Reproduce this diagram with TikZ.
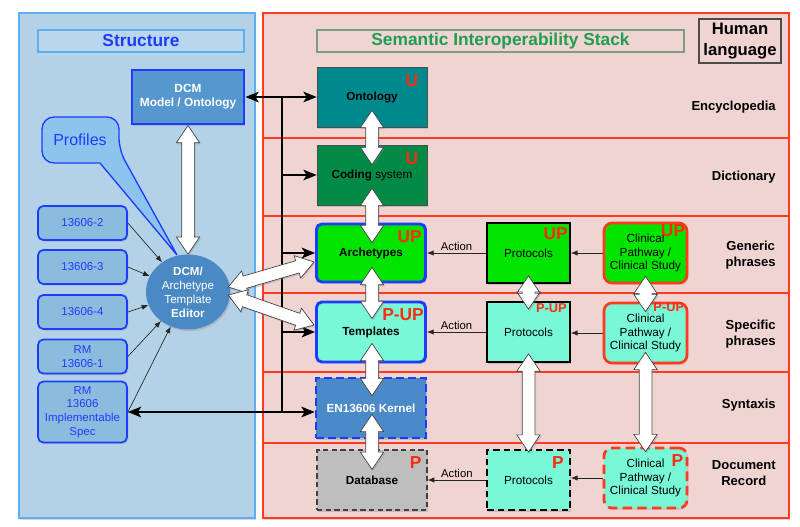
\documentclass[tikz,border=0pt]{standalone}
\usepackage{fontspec}
\setmainfont{Liberation Sans}
\usetikzlibrary{arrows.meta,shapes.arrows,shapes.geometric,shadows,calc}
\definecolor{lpfill}{HTML}{B4D2E7}
\definecolor{lpline}{HTML}{62ACF0}
\definecolor{hdrfill}{HTML}{B9D6EC}
\definecolor{sblue}{HTML}{1E3CFF}
\definecolor{rpfill}{HTML}{F0D4D2}
\definecolor{rline}{HTML}{FF3A1E}
\definecolor{sgreen}{HTML}{1E9E50}
\definecolor{hdrg}{HTML}{7A9E80}
\definecolor{ontc}{HTML}{00898C}
\definecolor{codc}{HTML}{008A46}
\definecolor{grn}{HTML}{00E400}
\definecolor{aqua}{HTML}{78F8D6}
\definecolor{kerc}{HTML}{4A8AC8}
\definecolor{dbc}{HTML}{BEBEBE}
\definecolor{dcmc}{HTML}{5597CE}
\definecolor{lbox}{HTML}{8BBCDE}
\definecolor{prof}{HTML}{8CC4EE}
\definecolor{edc}{HTML}{4A89C4}
\definecolor{redl}{HTML}{FF2A10}
\newcommand\myfs[2]{\fontsize{#1}{#2}\selectfont}
\newcommand\bigarr[3]{\path let \p1=(#2), \p2=(#3), \n1={atan2(\y2-\y1,\x2-\x1)}, \n2={veclen(\x2-\x1,\y2-\y1)} in node[warr, minimum height=\n2, rotate=\n1] (#1) at ($(#2)!0.5!(#3)$) {};}
\tikzset{
  sz/.style 2 args={minimum width=#1*0.75pt, minimum height=#2*0.75pt},
  shad/.style={drop shadow={opacity=0.3,shadow xshift=1pt,shadow yshift=-1.2pt}},
  panelL/.style={fill=lpfill, draw=lpline, line width=0.8pt, shad},
  panelR/.style={fill=rpfill, draw=rline, line width=0.8pt, shad},
  rowline/.style={draw=rline, line width=1.5pt},
  hdrS/.style={draw=lpline, fill=hdrfill, line width=0.8pt, sz={206}{22}, inner sep=0pt, text=sblue, font=\myfs{13}{15}\bfseries},
  hdrT/.style={draw=hdrg, line width=0.8pt, sz={367}{22}, inner sep=0pt, text=sgreen, font=\myfs{13}{15}\bfseries},
  hum/.style={draw=black!70, line width=0.8pt, sz={82}{44}, inner sep=0pt, align=center, font=\myfs{12.5}{15.5}\bfseries},
  rowlab/.style={anchor=east, align=center, inner sep=0pt, font=\myfs{9.8}{12.5}\bfseries},
  cbox/.style={draw=black!70, line width=0.5pt, sz={110}{60}, inner sep=0pt, align=center, font=\myfs{8.8}{10.5}\bfseries, shad},
  pbox/.style={draw=black, line width=1.3pt, sz={83}{60}, inner sep=0pt, align=center, font=\myfs{8.8}{10.5}, shad},
  cpbox/.style={draw=rline, line width=2pt, rounded corners=6pt, sz={83}{60}, inner sep=0pt, align=center, font=\myfs{8.8}{10.3}, shad},
  tag/.style={text=redl, font=\myfs{13}{13}\bfseries, inner sep=0pt, anchor=north east},
  stag/.style={tag, font=\myfs{9.6}{10}\bfseries},
  dcmbox/.style={fill=dcmc, draw=sblue, line width=2.2pt, sz={112}{54}, inner sep=0pt, align=center, text=white, font=\myfs{8.9}{10.5}\bfseries, shad},
  edit/.style={ellipse, fill=edc, sz={84}{75}, inner sep=0pt, align=center, text=white, font=\myfs{8.7}{10.5}, shad},
  lb/.style={fill=lbox, draw=sblue, line width=1.3pt, rounded corners=4pt, sz={89}{34}, inner sep=0pt, align=center, text=sblue, font=\myfs{8.6}{10.3}, shad},
  warr/.style={double arrow, draw=black!75, fill=white, line width=0.5pt, inner xsep=0pt, inner ysep=4.5pt, double arrow head extend=4pt, double arrow tip angle=68, shad},
  thinarr/.style={-{Latex[length=5pt,width=4pt]}, line width=0.5pt, draw=black!85},
  blk/.style={line width=1.5pt, draw=black},
  blkarr/.style={blk, -{Stealth[length=10pt,width=8pt,inset=2.5pt]}},
  blkdbl/.style={blk, {Stealth[length=10pt,width=8pt,inset=2.5pt]}-{Stealth[length=10pt,width=8pt,inset=2.5pt]}},
  act/.style={above, inner sep=1.5pt, font=\myfs{8.5}{10}},
}
\begin{document}
\begin{tikzpicture}[x=0.75pt,y=-0.75pt]
\fill[white] (0,0) rectangle (800,526);
\useasboundingbox (0,0) rectangle (800,526);
% panels
\draw[panelL] (19,13) rectangle (255,518);
\draw[panelR] (263,13) rectangle (789,518);
\foreach \yy in {138,216,293,372,443} \draw[rowline] (263,\yy) -- (789,\yy);
% headers
\node[hdrS] (hS) at (141,41) {Structure};
\node[hdrT] (hT) at (500.5,41) {Semantic Interoperability Stack};
\node[hum] (hum) at (740,41) {Human\\language};
% row labels
\node[rowlab] (rEnc) at (776,107) {Encyclopedia};
\node[rowlab] (rDic) at (776,177) {Dictionary};
\node[rowlab] (rGen) at (776,255) {Generic\\phrases};
\node[rowlab] (rSpe) at (776,334) {Specific\\phrases};
\node[rowlab] (rSyn) at (776,405) {Syntaxis};
\node[rowlab] (rDoc) at (776,473) {Document\\Record};
% centre column
\node[cbox, fill=ontc] (ont) at (372,97) {Ontology};
\node[cbox, fill=codc, font=\myfs{8.8}{10.5}] (cod) at (372,175) {\textbf{Coding} system};
\node[cbox, fill=grn, draw=sblue, line width=2.2pt, rounded corners=4pt, sz={109}{58}] (arc) at (371,253) {Archetypes};
\node[cbox, fill=aqua, draw=sblue, line width=2.2pt, rounded corners=4pt, sz={109}{60}] (tem) at (371,332) {Templates};
\node[cbox, fill=kerc, draw=sblue, line width=2pt, dash pattern=on 6pt off 3pt, text=white] (ker) at (371,408) {EN13606 Kernel};
\node[cbox, fill=dbc, draw=black!75, line width=0.9pt, dash pattern=on 4pt off 2.5pt] (dat) at (372,480) {Database};
% protocols
\node[pbox, fill=grn] (pr1) at (528.5,253) {Protocols};
\node[pbox, fill=aqua] (pr2) at (528.5,332) {Protocols};
\node[pbox, fill=aqua, dash pattern=on 5pt off 3pt] (pr3) at (528.5,480) {Protocols};
% clinical pathway
\node[cpbox, fill=grn] (cp1) at (645.5,253) {Clinical\\Pathway /\\Clinical Study};
\node[cpbox, fill=aqua] (cp2) at (645.5,333) {Clinical\\Pathway /\\Clinical Study};
\node[cpbox, fill=aqua, dash pattern=on 7pt off 4pt] (cp3) at (645.5,478) {Clinical\\Pathway /\\Clinical Study};
% tags
\node[tag] (tOnt) at ($(ont.north east)+(-9,8)$) {U};
\node[tag] (tCod) at ($(cod.north east)+(-9,8)$) {U};
\node[tag] (tArc) at ($(arc.north east)+(-5,8)$) {UP};
\node[tag] (tTem) at ($(tem.north east)+(-3,8)$) {P-UP};
\node[tag] (tDat) at ($(dat.north east)+(-6,7)$) {P};
\node[tag] (tPr1) at ($(pr1.north east)+(-3,5)$) {UP};
\node[stag] (tPr2) at ($(pr2.north east)+(-4,2)$) {P-UP};
\node[tag] (tPr3) at ($(pr3.north east)+(-7,7)$) {P};
\node[tag] (tCp1) at ($(cp1.north east)+(-3,3)$) {UP};
\node[stag] (tCp2) at ($(cp2.north east)+(-4,1)$) {P-UP};
\node[tag] (tCp3) at ($(cp3.north east)+(-5,8)$) {P};
% structure side
\node[dcmbox] (dcm) at (188,97) {DCM\\Model / Ontology};
\node[edit] (ed) at (188,292) {\textbf{DCM/}\\Archetype\\Template\\\textbf{Editor}};
\node[lb] (b2) at (82.5,223) {13606-2};
\node[lb] (b3) at (82.5,267) {13606-3};
\node[lb] (b4) at (82.5,312) {13606-4};
\node[lb] (b1) at (82.5,356.5) {RM\\13606-1};
\node[lb, sz={89}{61}] (bi) at (82.5,412) {RM\\13606\\Implementable\\Spec};
% profiles callout
\filldraw[fill=prof, draw=sblue, line width=1pt] (100,163) [rounded corners=9pt] -- (42,163) -- (42,117) -- (119,117) -- (119,150) [sharp corners] -- (177,255) -- cycle;
\node[text=sblue, font=\myfs{12}{14}, inner sep=0pt] (prf) at (80,140) {Profiles};
% thin arrows to editor
\foreach \b in {b2,b3,b4,b1,bi} \draw[thinarr] (\b.east) -- (ed);
% black bus
\coordinate (bt) at (282,97);
\draw[blkdbl] (dcm.east) -- (ont.west);
\draw[blk] (bt) -- (bt |- bi.east);
\draw[blkarr] (bt |- cod.west) -- (cod.west);
\draw[blkarr] (bt |- arc.west) -- (arc.west);
\draw[blkarr] (bt |- tem.west) -- (tem.west);
\draw[blkdbl] (bi.east) -- (bi.east -| ker.west);
% action arrows
\draw[thinarr] (pr1.west) -- node[act] (ac1) {Action} (arc.east);
\draw[thinarr] (pr2.west) -- node[act] (ac2) {Action} (tem.east);
\draw[thinarr] (pr3.west) -- node[act] (ac3) {Action} (dat.east);
\draw[thinarr] (cp1.west) -- (pr1.east);
\draw[thinarr] (cp2.west) -- (cp2.west -| pr2.east);
\draw[thinarr] (cp3.west) -- (cp3.west -| pr3.east);
% white double arrows
\coordinate (w0a) at (dcm.south); \coordinate (w0b) at (ed.north);
\coordinate (w1a) at ($(ont.south)+(0,-17)$); \coordinate (w1b) at ($(cod.north)+(0,20)$);
\coordinate (w2a) at ($(cod.south)+(0,-17)$); \coordinate (w2b) at ($(arc.north)+(1,20)$);
\coordinate (w3a) at ($(arc.south)+(1,-16)$); \coordinate (w3b) at ($(tem.north)+(1,18)$);
\coordinate (w4a) at ($(tem.south)+(1,-20)$); \coordinate (w4b) at ($(ker.north)+(1,19)$);
\coordinate (w5a) at ($(ker.south)+(1,-25)$); \coordinate (w5b) at ($(dat.north)+(0,20)$);
\coordinate (w6a) at ($(pr1.south)+(0,-8)$); \coordinate (w6b) at ($(pr2.north)+(0,8)$);
\coordinate (w7a) at ($(pr2.south)+(0,-9)$); \coordinate (w7b) at ($(pr3.north)+(0,3)$);
\coordinate (w8a) at ($(cp1.south)+(0,-8)$); \coordinate (w8b) at ($(cp2.north)+(0,10)$);
\coordinate (w9a) at ($(cp2.south)+(0,-12)$); \coordinate (w9b) at ($(cp3.north)+(0,5)$);
\coordinate (wAa) at ($(ed.east)+(-2,-5)$); \coordinate (wAb) at ($(arc.west)+(-1,9)$);
\coordinate (wBa) at ($(ed.east)+(-2,3)$); \coordinate (wBb) at ($(tem.west)+(-1,-7)$);
\bigarr{a0}{w0a}{w0b}
\bigarr{a1}{w1a}{w1b}
\bigarr{a2}{w2a}{w2b}
\bigarr{a3}{w3a}{w3b}
\bigarr{a4}{w4a}{w4b}
\bigarr{a5}{w5a}{w5b}
\bigarr{a6}{w6a}{w6b}
\bigarr{a7}{w7a}{w7b}
\bigarr{a8}{w8a}{w8b}
\bigarr{a9}{w9a}{w9b}
\bigarr{aA}{wAa}{wAb}
\bigarr{aB}{wBa}{wBb}
\end{tikzpicture}
\end{document}
